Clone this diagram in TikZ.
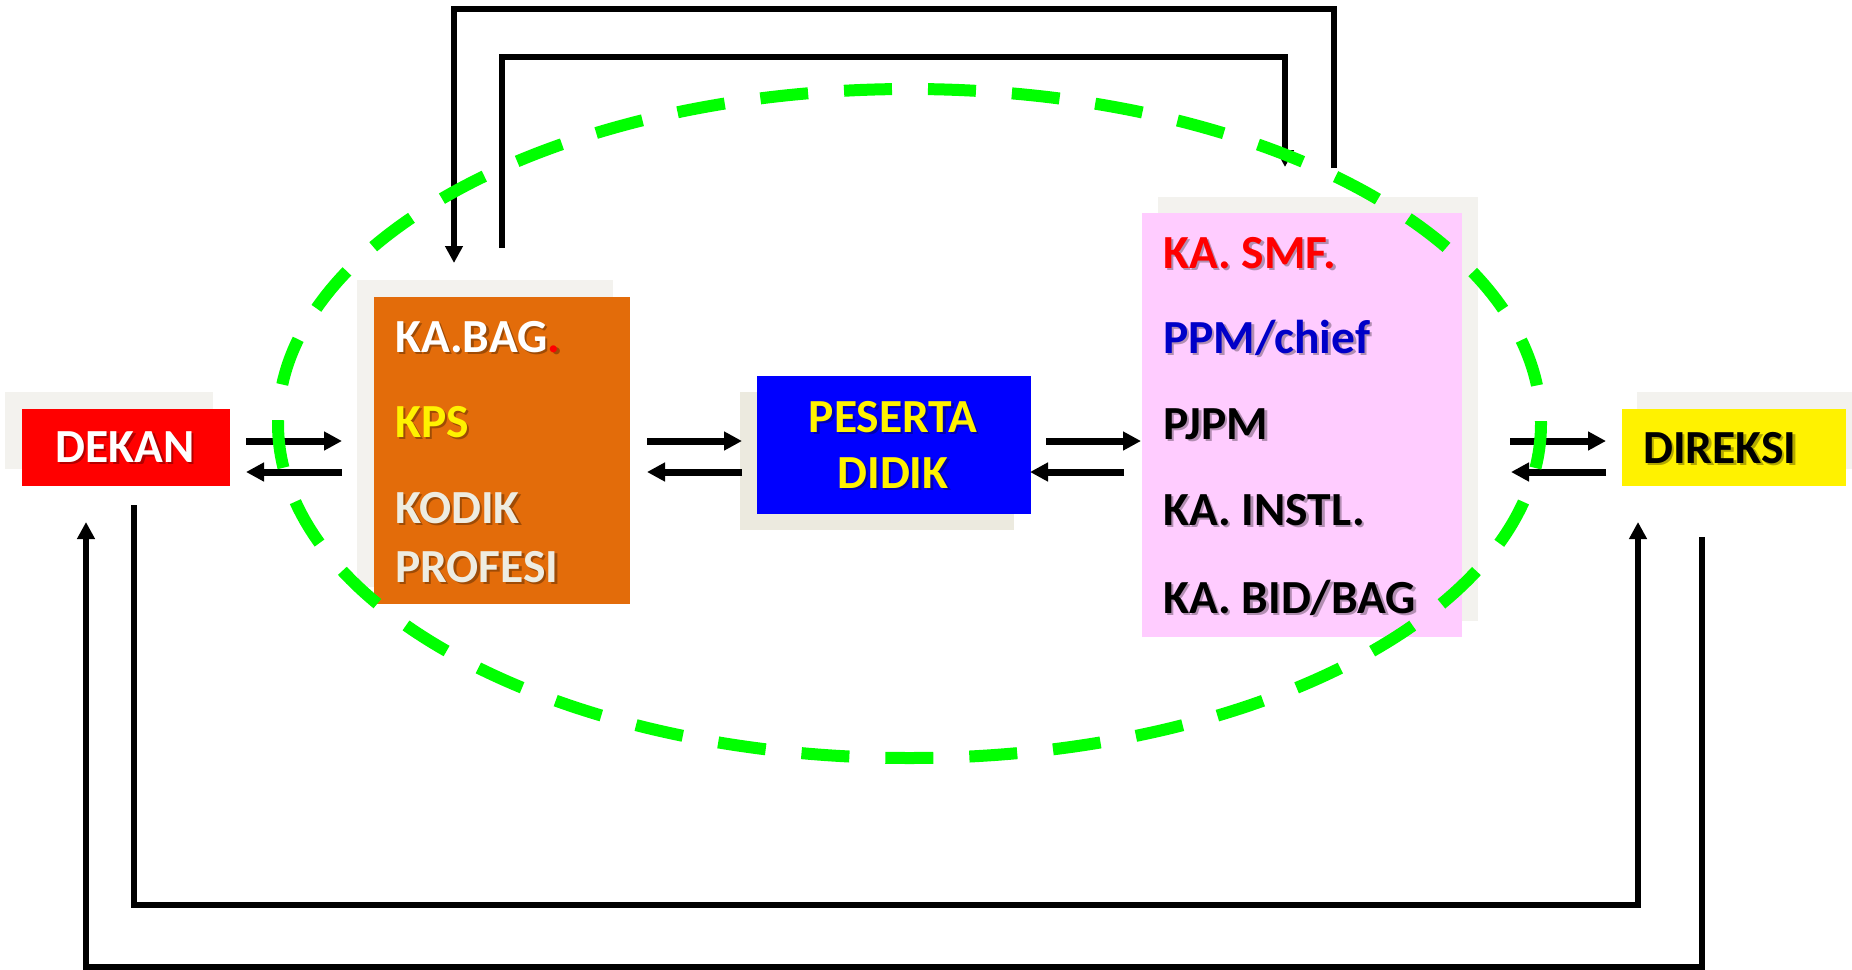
\documentclass[tikz,border=0pt]{standalone}
\usepackage{fontspec}
\setmainfont{Carlito}
\usetikzlibrary{arrows.meta,calc}

\definecolor{kpsorange}{HTML}{E36C0A}
\definecolor{shadowgrey}{HTML}{F3F2EE}
\definecolor{shadowbeige}{HTML}{ECEADF}
\definecolor{pinkbox}{HTML}{FFCCFF}
\definecolor{paletext}{HTML}{EEECE1}
\definecolor{ovalgreen}{HTML}{00FF00}
\definecolor{chiefblue}{HTML}{0000C8}

% drop-shadowed label: [anchor]{name}{position}{colour}{text}
\def\nocolour#1#2{#2}
\newcommand\shtext[5][base west]{%
  \node[txt,anchor=#1,text=black,opacity=.3] (#2-sh) at ($#3+(2.5,2.5)$) {\let\textcolor\nocolour #5};
  \node[txt,anchor=#1,text=#4] (#2) at #3 {#5};}

\begin{document}
\begin{tikzpicture}[x=1pt,y=-1pt,
  box/.style={rectangle,inner sep=0pt,outer sep=0pt,draw=none},
  txt/.style={inner sep=0pt,font=\bfseries\fontsize{47.5}{52}\selectfont},
  hconn/.style={line width=7pt,-{Triangle[width=18pt,length=18pt]}},
  vconn/.style={line width=5.5pt},
  vtip/.style={-{Triangle[width=17pt,length=17pt]}}]

\useasboundingbox (0,0) rectangle (1852,969);

% shadow plates behind the boxes
\node[box,fill=shadowgrey,minimum width=208pt,minimum height=77pt] (dekan-sh) at (109,430.5) {};
\node[box,fill=shadowgrey,minimum width=256pt,minimum height=307pt] (kps-sh) at (485,433.5) {};
\node[box,fill=shadowbeige,minimum width=274pt,minimum height=138pt] (pes-sh) at (877,461) {};
\node[box,fill=shadowgrey,minimum width=320pt,minimum height=424pt] (pink-sh) at (1318,409) {};
\node[box,fill=shadowgrey,minimum width=224pt,minimum height=77pt] (dir-sh) at (1749,430.5) {};

% boxes
\node[box,fill=red,minimum width=208pt,minimum height=77pt] (dekan) at (126,447.5) {};
\node[box,fill=kpsorange,minimum width=256pt,minimum height=307pt] (kps) at (502,450.5) {};
\node[box,fill=blue,minimum width=274pt,minimum height=138pt] (pes) at (894,445) {};
\node[box,fill=pinkbox,minimum width=320pt,minimum height=424pt] (pink) at (1302,425) {};
\node[box,fill=yellow,minimum width=224pt,minimum height=77pt] (dir) at (1734,447.5) {};

% paired horizontal arrows
\draw[hconn] ($(dekan.east)+(16,-6.5)$) -- ($(kps.west)+(-32,-9.5)$);
\draw[hconn] ($(kps.west)+(-32,21.5)$) -- ($(dekan.east)+(16,24.5)$);
\draw[hconn] ($(kps.east)+(17,-9.5)$) -- ($(pes.west)+(-15,-4)$);
\draw[hconn] ($(pes.west)+(-15,27)$) -- ($(kps.east)+(17,21.5)$);
\draw[hconn] ($(pes.east)+(15,-4)$) -- ($(pink.west)+(-1,16)$);
\draw[hconn] ($(pink.west)+(-18,47)$) -- ($(pes.east)+(-1,27)$);
\draw[hconn] ($(pink.east)+(48,16)$) -- ($(dir.west)+(-16,-6.5)$);
\draw[hconn] ($(dir.west)+(-16,24.5)$) -- ($(pink.east)+(49,47)$);

% loops over the top
\draw[vconn,vtip] ($(pink.north)+(32,-45)$) |- ($(kps.north)+(-48,-288)$) -- ($(kps.north)+(-48,-34)$);
\draw[vconn,vtip] ($(kps.north)+(0,-49)$) |- ($(pink.north)+(-17,-156)$) -- ($(pink.north)+(-17,-46)$);

% loops underneath
\draw[vconn,vtip] ($(dekan.south)+(8,19)$) |- ($(dir.south)+(-96,419)$) -- ($(dir.south)+(-96,36)$);
\draw[vconn,vtip] ($(dir.south)+(-32,51)$) |- ($(dekan.south)+(-40,481)$) -- ($(dekan.south)+(-40,36)$);

% dashed green oval
\draw[ovalgreen,line width=12pt,dash pattern=on 48pt off 36pt,dash phase=3pt]
  (909.5,423.5) ellipse [x radius=631.5,y radius=334.5];

% labels
\shtext[base]{tdekan}{(125,462)}{white}{DEKAN}
\shtext{tkabag}{(395,352)}{white}{KA.BAG\textcolor{red}{.}}
\shtext{tkps}{(395,437)}{yellow}{KPS}
\shtext{tkodik}{(395,523)}{paletext}{KODIK}
\shtext{tprofesi}{(395,582)}{paletext}{PROFESI}
\shtext[base]{tpeserta}{(893,432)}{yellow}{PESERTA}
\shtext[base]{tdidik}{(893,488)}{yellow}{DIDIK}
\shtext{tsmf}{(1163,268)}{red}{KA. SMF.}
\shtext{tppm}{(1163,353)}{chiefblue}{PPM/chief}
\shtext{tpjpm}{(1163,439)}{black}{PJPM}
\shtext{tinstl}{(1163,525)}{black}{KA. INSTL.}
\shtext{tbid}{(1163,613)}{black}{KA. BID/BAG}
\shtext{tdireksi}{(1643,463)}{black}{DIREKSI}

\end{tikzpicture}
\end{document}
